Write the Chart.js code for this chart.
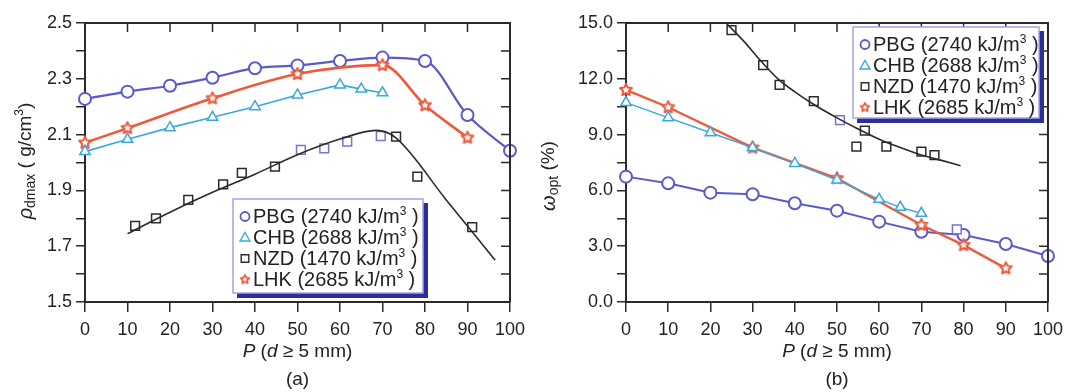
<!DOCTYPE html>
<html>
<head>
<meta charset="utf-8">
<title>Compaction results</title>
<script src="https://cdn.jsdelivr.net/npm/chart.js@4"></script>
<style>
    html, body { margin: 0; padding: 0; background: #fff; }
    #wrap { position: relative; width: 1070px; height: 392px; }
    canvas { position: absolute; top: 0; }
    #chartA { left: 0; }
    #chartB { left: 535px; }
</style>
</head>
<body>
<div id="wrap">
    <canvas id="chartA" width="535" height="392"></canvas>
    <canvas id="chartB" width="535" height="392"></canvas>
</div>
<script>
// Series names and compaction energies shown in the legends
const seriesNames = ['PBG', 'CHB', 'NZD', 'LHK'];
const compactionEnergy = ['2740', '2688', '1470', '2685'];

// (a) maximum dry density, g/cm3
const pbgP = [0, 10, 20, 30, 40, 50, 60, 70, 80, 90, 100];
const pbgDensity = [2.228, 2.254, 2.275, 2.304, 2.338, 2.348, 2.364, 2.376, 2.364, 2.170, 2.042];
const chbP = [0, 10, 20, 30, 40, 50, 60, 65, 70];
const chbDensity = [2.039, 2.083, 2.125, 2.162, 2.200, 2.242, 2.278, 2.263, 2.250];
const lhkP = [0, 10, 30, 50, 70, 80, 90];
const lhkDensity = [2.071, 2.123, 2.230, 2.317, 2.349, 2.205, 2.089];
const nzdDensityP = [11.8, 16.7, 24.3, 32.5, 36.9, 44.7, 50.8, 56.3, 61.7, 69.6, 73.2, 78.2, 91.1];
const nzdDensity = [1.773, 1.800, 1.866, 1.922, 1.963, 1.985, 2.045, 2.051, 2.075, 2.095, 2.093, 1.949, 1.768];
const nzdDensityFitP = [10, 20, 30, 40, 50, 60, 68.5, 73, 85, 96.5];
const nzdDensityFit = [1.745, 1.822, 1.893, 1.958, 2.028, 2.084, 2.115, 2.090, 1.866, 1.650];

// (b) optimum moisture content, %
const pbgMoisture = [6.74, 6.38, 5.88, 5.79, 5.31, 4.91, 4.32, 3.78, 3.60, 3.12, 2.47];
const chbMoisture = [10.72, 9.91, 9.10, 8.30, 7.45, 6.56, 5.52, 5.09, 4.77];
const lhkMoisture = [11.40, 10.47, 8.30, 6.65, 4.14, 3.06, 1.81];
const nzdMoistureP = [25.0, 32.5, 36.4, 44.5, 50.7, 56.6, 54.6, 61.7, 70.0, 73.1, 78.4];
const nzdMoisture = [14.62, 12.74, 11.67, 10.80, 9.78, 9.21, 8.35, 8.35, 8.08, 7.90, 3.91];
const nzdMoistureFitP = [23.7, 28, 32, 36, 40, 45, 50, 55, 60, 65, 70, 75, 79.3];
const nzdMoistureFit = [15.0, 14.0, 12.95, 12.0, 11.3, 10.55, 9.9, 9.3, 8.75, 8.3, 7.9, 7.6, 7.33];

// x-axis ticks (both panels) and y-axis ranges
const pTicks = { min: 0, max: 100, step: 10 };
const densityTicks = { min: 1.5, max: 2.5, step: 0.1 };
const moistureTicks = { min: 0, max: 15, step: 1.5 };

const FONT = '"Liberation Sans", Arial, Helvetica, sans-serif';
const AXIS = '#2a2a2a';
const C_PBG = '#5b5bc8';
const C_CHB = '#3aa8dc';
const C_NZD = '#2b2b2b';
const C_NZD2 = '#7676cf';
const C_LHK = '#ee5a3c';

const zip = (xs, ys) => xs.map((x, i) => ({ x, y: ys[i] }));

function starPath(ctx, cx, cy, ro, ri) {
    ctx.beginPath();
    for (let i = 0; i < 10; i++) {
        const r = i % 2 ? ri : ro;
        const a = -Math.PI / 2 + i * Math.PI / 5;
        const px = cx + r * Math.cos(a), py = cy + r * Math.sin(a);
        if (i === 0) ctx.moveTo(px, py); else ctx.lineTo(px, py);
    }
    ctx.closePath();
}

// hollow five-point star used as a point style
function starCanvas(ro, ri, lw, color) {
    const size = Math.ceil(2 * (ro + lw)) + 1;
    const c = document.createElement('canvas');
    c.width = size; c.height = size;
    const g = c.getContext('2d');
    starPath(g, size / 2, size / 2, ro, ri);
    g.fillStyle = '#fff';
    g.fill();
    g.lineWidth = lw;
    g.lineJoin = 'round';
    g.strokeStyle = color;
    g.stroke();
    return c;
}

const starPoint = starCanvas(6.2, 3.0, 2, C_LHK);
const starLegend = starCanvas(4.6, 2.3, 1.8, C_LHK);

function drawRuns(ctx, runs, x, y, align) {
    let total = 0;
    runs.forEach(r => { ctx.font = r[1]; total += ctx.measureText(r[0]).width; });
    let cx = align === 'center' ? x - total / 2 : x;
    runs.forEach(r => {
        ctx.font = r[1];
        ctx.fillText(r[0], cx, y + (r[2] || 0));
        cx += ctx.measureText(r[0]).width;
    });
}

function legendMarker(ctx, kind, x, y) {
    ctx.save();
    ctx.fillStyle = '#fff';
    if (kind === 'circle') {
        ctx.strokeStyle = C_PBG; ctx.lineWidth = 1.8;
        ctx.beginPath(); ctx.arc(x, y, 4.5, 0, Math.PI * 2); ctx.fill(); ctx.stroke();
    } else if (kind === 'triangle') {
        ctx.strokeStyle = C_CHB; ctx.lineWidth = 1.4;
        ctx.beginPath();
        ctx.moveTo(x, y - 5); ctx.lineTo(x + 5, y + 3.5); ctx.lineTo(x - 5, y + 3.5);
        ctx.closePath(); ctx.fill(); ctx.stroke();
    } else if (kind === 'rect') {
        ctx.strokeStyle = C_NZD; ctx.lineWidth = 1.4;
        ctx.beginPath(); ctx.rect(x - 3.8, y - 3.8, 7.6, 7.6); ctx.fill(); ctx.stroke();
    } else {
        ctx.drawImage(starLegend, x - starLegend.width / 2, y - starLegend.height / 2);
    }
    ctx.restore();
}

// Frame, mirrored ticks, axis titles, panel label and legend box
const panelDecor = {
    id: 'panelDecor',
    afterDraw(chart, args, opts) {
        const ctx = chart.ctx;
        const { left, right, top, bottom } = chart.chartArea;
        const xs = chart.scales.x, ys = chart.scales.y;
        ctx.save();
        ctx.strokeStyle = AXIS;
        ctx.lineWidth = 2;
        ctx.beginPath();
        ctx.moveTo(left, top); ctx.lineTo(right, top); ctx.lineTo(right, bottom);
        ctx.stroke();

        ctx.lineWidth = 1.5;
        ctx.beginPath();
        xs.ticks.forEach(t => {
            const px = xs.getPixelForValue(t.value);
            ctx.moveTo(px, top); ctx.lineTo(px, top + 9);
        });
        ys.ticks.forEach(t => {
            const py = ys.getPixelForValue(t.value);
            ctx.moveTo(right, py); ctx.lineTo(right - 9, py);
        });
        ctx.stroke();

        ctx.fillStyle = '#222';
        ctx.textBaseline = 'middle';
        const cx = (left + right) / 2;
        drawRuns(ctx, [
            ['P', 'italic 19px ' + FONT], [' (', '19px ' + FONT],
            ['d', 'italic 19px ' + FONT], [' \u2265 5 mm)', '19px ' + FONT]
        ], cx, 352, 'center');
        drawRuns(ctx, [[opts.tag, '19px ' + FONT]], cx, 380, 'center');

        ctx.save();
        ctx.translate(opts.yTitleX, opts.yTitleY);
        ctx.rotate(-Math.PI / 2);
        drawRuns(ctx, opts.yTitle, 0, 0, 'center');
        ctx.restore();

        // legend
        const b = opts.legendBox;
        ctx.fillStyle = '#2d2d9c';
        ctx.fillRect(b.x + b.w, b.y + 4, 5, b.h + 1);
        ctx.fillRect(b.x + 4, b.y + b.h, b.w + 1, 5);
        ctx.fillStyle = '#fff';
        ctx.fillRect(b.x, b.y, b.w, b.h);
        ctx.strokeStyle = '#a4a4e4';
        ctx.lineWidth = 1.5;
        ctx.strokeRect(b.x, b.y, b.w, b.h);
        const kinds = ['circle', 'triangle', 'rect', 'star'];
        seriesNames.forEach((name, i) => {
            const ry = b.y + 17.5 + i * 21;
            legendMarker(ctx, kinds[i], b.x + 12, ry);
            ctx.fillStyle = '#222';
            drawRuns(ctx, [
                [name + ' (' + compactionEnergy[i] + ' kJ/m', '20px ' + FONT],
                ['3', '12px ' + FONT, -6],
                [' )', '20px ' + FONT]
            ], b.x + 20, ry + 1, 'left');
        });
        ctx.restore();
    }
};

function axisX() {
    return {
        type: 'linear',
        min: pTicks.min, max: pTicks.max,
        afterFit: s => { s.height = 90; },
        border: { color: AXIS, width: 2 },
        grid: { drawOnChartArea: false, tickLength: 10, color: AXIS, lineWidth: 1.5 },
        ticks: { stepSize: pTicks.step, padding: 7, color: '#222', font: { family: FONT, size: 18 } }
    };
}

function axisY(range, width, label) {
    return {
        type: 'linear',
        min: range.min, max: range.max,
        afterFit: s => { s.width = width; },
        border: { color: AXIS, width: 2 },
        grid: { drawOnChartArea: false, tickLength: 9, color: AXIS, lineWidth: 1.5 },
        ticks: { stepSize: range.step, padding: 4, color: '#222', font: { family: FONT, size: 18 }, callback: label }
    };
}

function lineSet(data, color, style, radius, lw, tension) {
    return {
        data, borderColor: color, backgroundColor: '#fff',
        borderWidth: lw, pointStyle: style, pointRadius: radius,
        pointBorderColor: color, pointBackgroundColor: '#fff', pointBorderWidth: style === 'circle' ? 2 : 1.5,
        cubicInterpolationMode: tension ? 'monotone' : 'default', tension: 0,
        showLine: true, clip: false
    };
}

function fitSet(data) {
    return {
        data, borderColor: C_NZD, borderWidth: 1.6, pointRadius: 0,
        cubicInterpolationMode: 'monotone', showLine: true, clip: false
    };
}

function squareSet(data, tinted) {
    return {
        data, showLine: false, pointStyle: 'rect', pointRadius: 6.2, pointBorderWidth: 1.5,
        pointBackgroundColor: '#fff',
        pointBorderColor: data.map((d, i) => tinted.includes(i) ? C_NZD2 : C_NZD), clip: false
    };
}

function baseOptions(padRight, yAxis, decor) {
    return {
        responsive: false, animation: false, devicePixelRatio: 1,
        layout: { padding: { left: 0, top: 23, right: padRight, bottom: 0 } },
        plugins: { legend: { display: false }, tooltip: { enabled: false }, panelDecor: decor },
        scales: { x: axisX(), y: yAxis }
    };
}

new Chart(document.getElementById('chartA'), {
    type: 'scatter',
    data: {
        datasets: [
            fitSet(zip(nzdDensityFitP, nzdDensityFit)),
            squareSet(zip(nzdDensityP, nzdDensity), [6, 7, 8, 9]),
            lineSet(zip(chbP, chbDensity), C_CHB, 'triangle', 6, 1.6, false),
            lineSet(zip(lhkP, lhkDensity), C_LHK, starPoint, 6, 2.6, true),
            lineSet(zip(pbgP, pbgDensity), C_PBG, 'circle', 6, 2.2, true)
        ]
    },
    options: baseOptions(25, axisY(densityTicks, 85, v => {
        const k = Math.round(v * 10);
        return k % 2 === 1 ? (k / 10).toFixed(1) : '';
    }), {
        tag: '(a)',
        yTitleX: 26, yTitleY: 161,
        yTitle: [['\u03c1', 'italic 20px ' + FONT], ['dmax', '14px ' + FONT, 5],
                 [' ( g/cm', '19px ' + FONT], ['3', '12px ' + FONT, -6], [')', '19px ' + FONT]],
        legendBox: { x: 233, y: 199, w: 190, h: 94 }
    }),
    plugins: [panelDecor]
});

new Chart(document.getElementById('chartB'), {
    type: 'scatter',
    data: {
        datasets: [
            fitSet(zip(nzdMoistureFitP, nzdMoistureFit)),
            squareSet(zip(nzdMoistureP, nzdMoisture), [4, 10]),
            lineSet(zip(chbP, chbMoisture), C_CHB, 'triangle', 6, 1.4, false),
            lineSet(zip(lhkP, lhkMoisture), C_LHK, starPoint, 6, 2.4, false),
            lineSet(zip(pbgP, pbgMoisture), C_PBG, 'circle', 6, 2, false)
        ]
    },
    options: baseOptions(19, axisY(moistureTicks, 91, v => {
        const k = Math.round(v / 1.5);
        return k % 2 === 0 ? v.toFixed(1) : '';
    }), {
        tag: '(b)',
        yTitleX: 14, yTitleY: 176,
        yTitle: [['\u03c9', 'italic 20px ' + FONT], ['opt', '14px ' + FONT, 5], [' (%)', '19px ' + FONT]],
        legendBox: { x: 318, y: 27, w: 186, h: 91 }
    }),
    plugins: [panelDecor]
});
</script>
</body>
</html>
